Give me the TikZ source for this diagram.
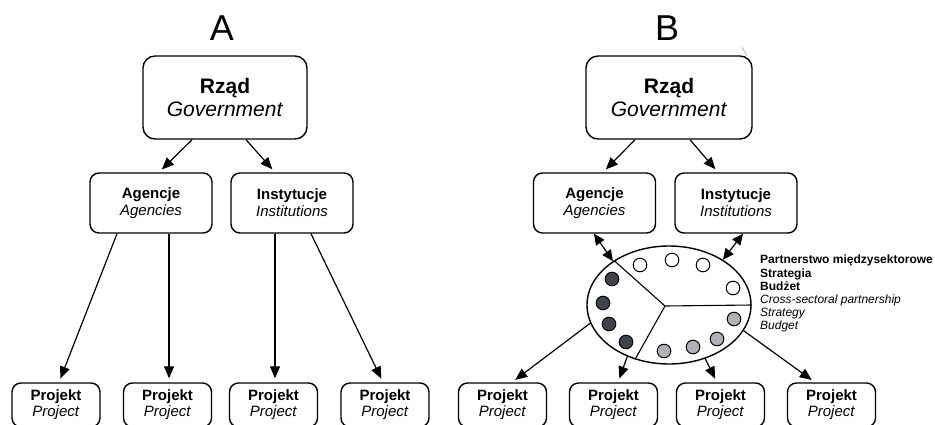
\documentclass[tikz,border=0pt]{standalone}
\usepackage{fontspec}
\setmainfont{Liberation Sans}
\usetikzlibrary{arrows.meta,calc,shapes.geometric}
\definecolor{darkdot}{RGB}{64,68,72}
\definecolor{greydot}{RGB}{178,178,182}

\begin{document}
\begin{tikzpicture}[x=1pt,y=-1pt,
  rbox/.style={draw, line width=1.4pt, align=center, inner sep=0pt},
  bigbox/.style={rbox, rounded corners=12pt, minimum width=164pt, minimum height=83pt,
                 font=\fontsize{21}{23}\selectfont},
  midbox/.style={rbox, rounded corners=9pt, minimum width=122pt, minimum height=60pt,
                 font=\fontsize{15}{17}\selectfont},
  projbox/.style={rbox, rounded corners=9pt, minimum width=88pt, minimum height=44pt,
                  font=\fontsize{15}{16}\selectfont},
  arr/.style={line width=1.2pt, shorten >=4pt, -{Triangle[length=12pt,width=10pt]}},
  dblarr/.style={line width=1.2pt, {Triangle[length=11pt,width=10pt]}-{Triangle[length=11pt,width=10pt]}},
  disc/.style={draw, line width=1pt},
  paneltitle/.style={font=\fontsize{36}{36}\selectfont, inner sep=0pt}
]
\useasboundingbox (0,0) rectangle (935,424);

% ---------------- panel A ----------------
\node[paneltitle] (tA) at (222,28) {A};
\node[bigbox] (rzadA) at (225,97.5) {\textbf{Rząd}\\\textit{Government}};
\node[midbox] (agA)  at (151,203) {\textbf{Agencje}\\\textit{Agencies}};
\node[midbox] (insA) at (292,203) {\textbf{Instytucje}\\\textit{Institutions}};
\node[projbox] (pA1) at (56,405)    {\textbf{Projekt}\\\textit{Project}};
\node[projbox] (pA2) at (167.5,405) {\textbf{Projekt}\\\textit{Project}};
\node[projbox] (pA3) at (273.5,405) {\textbf{Projekt}\\\textit{Project}};
\node[projbox] (pA4) at (385,405)   {\textbf{Projekt}\\\textit{Project}};

\draw[arr] ([xshift=-33pt]rzadA.south) -- ([xshift=8pt]agA.north);
\draw[arr] ([xshift=21pt]rzadA.south)  -- ([xshift=-17pt]insA.north);
\draw[arr] ([xshift=-34pt]agA.south)   -- ([xshift=3pt]pA1.north);
\draw[arr] ([xshift=18pt]agA.south)    -- ([xshift=1.5pt]pA2.north);
\draw[arr] ([xshift=-17pt]insA.south)  -- ([xshift=1.5pt]pA3.north);
\draw[arr] ([xshift=19pt]insA.south)   -- ([xshift=-2pt]pA4.north);

% ---------------- panel B ----------------
\node[paneltitle] (tB) at (667,28) {B};
\node[bigbox, minimum width=166pt] (rzadB) at (669,97.5) {\textbf{Rząd}\\\textit{Government}};
\node[midbox] (agB)  at (594.5,203) {\textbf{Agencje}\\\textit{Agencies}};
\node[midbox] (insB) at (736,203)   {\textbf{Instytucje}\\\textit{Institutions}};
\node[projbox] (pB1) at (502.5,405) {\textbf{Projekt}\\\textit{Project}};
\node[projbox] (pB2) at (613.5,405) {\textbf{Projekt}\\\textit{Project}};
\node[projbox] (pB3) at (720.5,405) {\textbf{Projekt}\\\textit{Project}};
\node[projbox] (pB4) at (831.5,405) {\textbf{Projekt}\\\textit{Project}};

% stray hairline above the government box
\draw[black!35, line width=0.6pt] (742,47) -- (747,56);

% partnership ellipse, split in three sectors
\node[draw, ellipse, line width=1.4pt, minimum width=164pt, minimum height=118pt,
      inner sep=0pt] (ell) at (669,305) {};
\coordinate (pc) at (665,306);
\draw[line width=1.1pt] (pc) -- (ell.0);
\draw[line width=1.1pt] (pc) -- (ell.141);
\draw[line width=1.1pt] (pc) -- (ell.238);

% members of each sector
\foreach \p in {(640,265),(672,260),(703,265),(733,288)}
  \draw[disc, fill=white] \p circle (6.8);
\foreach \p in {(612,279),(603,303),(609,324),(626,342)}
  \draw[disc, fill=darkdot] \p circle (6.8);
\foreach \p in {(734,319),(717,339),(693,347),(664,351)}
  \draw[disc, fill=greydot] \p circle (6.8);

\draw[arr] ([xshift=-34pt]rzadB.south) -- ([xshift=8.5pt]agB.north);
\draw[arr] ([xshift=21pt]rzadB.south)  -- ([xshift=-18pt]insB.north);
\draw[dblarr] ([xshift=-0.5pt]agB.south) -- (ell.142);
\draw[dblarr] ([xshift=7pt]insB.south) -- (ell.40);
\draw[arr] (ell.193) -- ([xshift=9.5pt]pB1.north);
\draw[arr] (ell.231) -- ([xshift=4.5pt]pB2.north);
\draw[arr] (ell.304) -- ([xshift=-3.5pt]pB3.north);
\draw[arr] (ell.341) -- ([xshift=-16.5pt]pB4.north);

\node[anchor=north west, align=left, inner sep=0pt,
      font=\fontsize{12}{13.2}\selectfont] (legend) at (760,255)
  {\textbf{Partnerstwo międzysektorowe}\\\textbf{Strategia}\\\textbf{Budżet}\\
   \textit{Cross-sectoral partnership}\\\textit{Strategy}\\\textit{Budget}};
\end{tikzpicture}
\end{document}
